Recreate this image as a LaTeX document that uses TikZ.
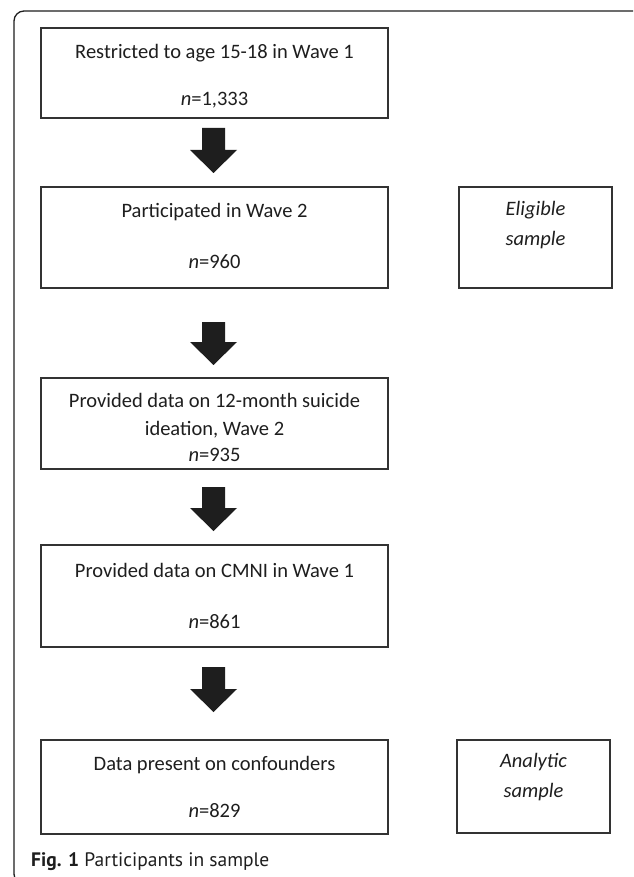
\documentclass[tikz,border=0pt]{standalone}
\usepackage{fontspec}
\setmainfont{Carlito}
\newfontfamily\capfont{PT Sans}
\usetikzlibrary{calc}
\definecolor{ink}{HTML}{1E1E1E}
\definecolor{boxline}{HTML}{333333}
\newcommand\blockarrow[2]{%
  \fill[ink] ($(#1)+(-11.5,0)$) -- ($(#2)+(-11.5,-23)$) -- ($(#2)+(-23.5,-23)$) -- (#2)
    -- ($(#2)+(23.5,-23)$) -- ($(#2)+(11.5,-23)$) -- ($(#1)+(11.5,0)$) -- cycle;}
\begin{document}
\begin{tikzpicture}[x=1pt,y=-1pt,
  flowbox/.style={draw=boxline, line width=1.3pt, rectangle, inner sep=0pt},
  txt/.style={font=\fontsize{20.5}{24}\selectfont, text=ink, inner sep=0pt, anchor=center}]
\useasboundingbox (0,0) rectangle (633,877);
\clip (0,0) rectangle (633,877);
\fill[white] (0,0) rectangle (633,877);
% outer frame
\draw[ink, line width=1.3pt, rounded corners=10pt] (14,11) rectangle (700,884);
% boxes
\node[flowbox, minimum width=347pt, minimum height=90pt] (b1) at (214.5,73) {};
\node[flowbox, minimum width=347pt, minimum height=101pt] (b2) at (214.5,237.5) {};
\node[flowbox, minimum width=153pt, minimum height=101pt] (e1) at (535.5,237.5) {};
\node[flowbox, minimum width=347pt, minimum height=91pt] (b3) at (214.5,423.5) {};
\node[flowbox, minimum width=347pt, minimum height=102pt] (b4) at (214.5,596) {};
\node[flowbox, minimum width=347pt, minimum height=94pt] (b5) at (214.5,787) {};
\node[flowbox, minimum width=153pt, minimum height=93pt] (e2) at (533.5,786.5) {};
% texts
\node[txt] (t1a) at (214.5,53) {Restricted to age 15-18 in Wave 1};
\node[txt] (t1b) at (214.5,100) {\textit{n}=1,333};
\node[txt] (t2a) at (214.5,212) {Participated in Wave 2};
\node[txt] (t2b) at (214.5,262) {\textit{n}=960};
\node[txt] (te1a) at (535.5,210) {\textit{Eligible}};
\node[txt] (te1b) at (535.5,240) {\textit{sample}};
\node[txt] (t3a) at (214.5,400) {Provided data on 12-month suicide};
\node[txt] (t3b) at (214.5,430) {ideation, Wave 2};
\node[txt] (t3c) at (214.5,455) {\textit{n}=935};
\node[txt] (t4a) at (214.5,570) {Provided data on CMNI in Wave 1};
\node[txt] (t4b) at (214.5,622) {\textit{n}=861};
\node[txt] (t5a) at (214.5,765) {Data present on confounders};
\node[txt] (t5b) at (214.5,811) {\textit{n}=829};
\node[txt] (te2a) at (533.5,762) {\textit{Analytic}};
\node[txt] (te2b) at (533.5,792) {\textit{sample}};
% arrows
\coordinate (a1s) at (213.5,128); \coordinate (a1e) at (213.5,173);
\coordinate (a2s) at (213.5,322); \coordinate (a2e) at (213.5,365);
\coordinate (a3s) at (213.5,487); \coordinate (a3e) at (213.5,531);
\coordinate (a4s) at (213.5,667); \coordinate (a4e) at (213.5,712);
\blockarrow{a1s}{a1e}
\blockarrow{a2s}{a2e}
\blockarrow{a3s}{a3e}
\blockarrow{a4s}{a4e}
% caption
\node[anchor=west, inner sep=0pt, text=ink, font=\capfont\fontsize{19.5}{22}\selectfont] (cap) at (31,862) {\textbf{Fig. 1} Participants in sample};
\end{tikzpicture}
\end{document}
